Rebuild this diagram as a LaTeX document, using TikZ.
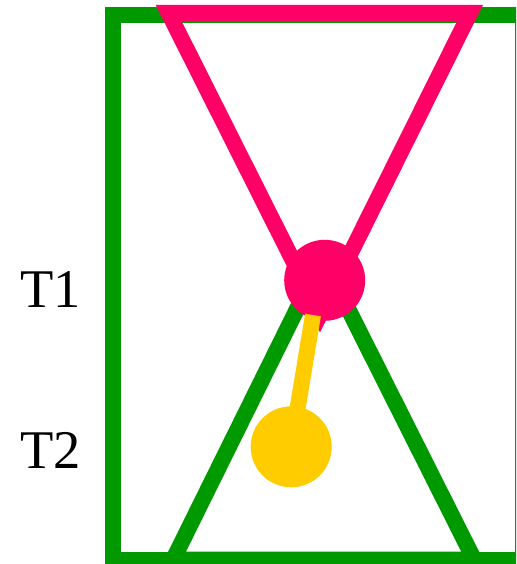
\documentclass[tikz,border=0pt]{standalone}
\usepackage{fontspec}
\setmainfont{Liberation Serif}
\definecolor{gr}{RGB}{0,153,0}
\definecolor{pk}{RGB}{255,0,102}
\definecolor{yl}{RGB}{255,204,0}
\begin{document}
\begin{tikzpicture}[x=1pt,y=-1pt,
  thick line/.style={line width=16pt, line join=miter},
  lbl/.style={font=\fontsize{54.5}{60}\selectfont, inner sep=0pt, anchor=west},
  dot/.style={circle, inner sep=0pt, minimum size=81pt}]
\useasboundingbox (0,0) rectangle (516,564);
\clip (0,0) rectangle (516,564);
% green frame and triangle
\draw[thick line, gr] (112.7,15) rectangle (523,559.7);
\draw[thick line, gr] (173.1,559.7) -- (474.2,559.7) -- (322.4,257.7) -- cycle;
% pink inverted triangle
\draw[thick line, pk] (168.5,12.8) -- (470.2,12.8) -- (320,314.5) -- cycle;
% pink circle
\node[dot, fill=pk] (pc) at (324.7,280.3) {};
% yellow circle and connector
\coordinate (ys) at (313,315);
\node[dot, fill=yl] (yc) at (291.2,446.8) {};
\draw[line width=16pt, yl] (ys) -- (yc.center);
% labels
\node[lbl] (t1) at (19.8,290) {T1};
\node[lbl] (t2) at (19.8,450.5) {T2};
\end{tikzpicture}
\end{document}
